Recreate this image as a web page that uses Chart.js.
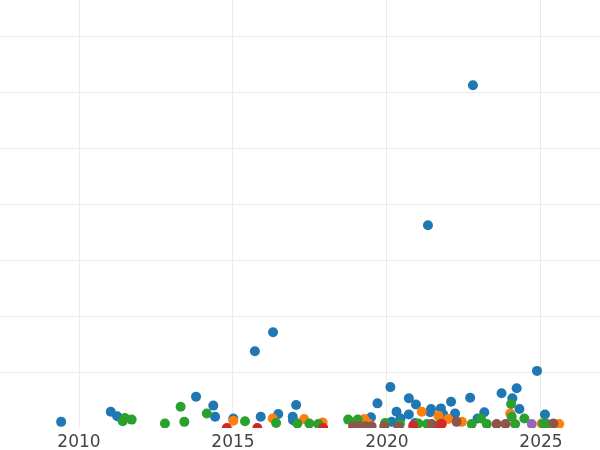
<!DOCTYPE html>
<html>
<head>
<meta charset="utf-8">
<script src="https://cdn.jsdelivr.net/npm/chart.js@4.4.1/dist/chart.umd.min.js"></script>
<style>
  html, body { margin: 0; padding: 0; background: #fff; }
  #wrap { width: 600px; height: 450px; position: relative; }
</style>
</head>
<body>
<div id="wrap"><canvas id="scatter"></canvas></div>
<script>
// point groups, x = year, y = value (y axis has no labels)
var blueX = [2009.42, 2011.03, 2011.24, 2013.80, 2014.36, 2014.42, 2015.01, 2015.90, 2015.71, 2016.30,
  2016.47, 2017.05, 2016.94, 2016.95, 2019.48, 2019.69, 2020.11, 2020.15, 2020.31, 2020.44,
  2020.71, 2020.94, 2020.71, 2020.91, 2021.33, 2021.43, 2021.40, 2021.75, 2021.83, 2022.08,
  2022.21, 2022.70, 2022.79, 2023.16, 2022.94, 2023.72, 2024.21, 2024.07, 2024.30, 2024.87, 2025.13];
var blueY = [11, 29, 21, 56, 40, 20, 17, 20, 137, 171,
  25, 41, 20, 14, 19, 44, 73, 11, 29, 17,
  53, 42, 24, 9, 362, 34, 28, 35, 24, 47,
  26, 54, 612, 28, 17, 62, 71, 53, 34, 102, 24];

var orangeX = [2015.01, 2016.29, 2017.31, 2017.91, 2019.26, 2019.40, 2021.13, 2021.67, 2021.99, 2022.43, 2024.00, 2025.02, 2025.59];
var orangeY = [13, 17, 16, 10, 16, 8, 29, 22, 16, 11, 26, 8, 7];

var greenX = [2011.42, 2011.49, 2011.71, 2012.79, 2013.30, 2013.42, 2014.15, 2015.39, 2016.40, 2017.09,
  2017.48, 2017.77, 2018.74, 2019.05, 2019.94, 2020.42, 2021.02, 2021.30, 2021.72, 2022.75,
  2023.05, 2023.24, 2024.03, 2024.05, 2024.16, 2024.46, 2025.07, 2025.20];
var greenY = [12, 18, 15, 8, 38, 11, 26, 12, 9, 8,
  8, 7, 15, 15, 9, 7, 8, 7, 7, 7,
  17, 7, 43, 20, 7, 17, 8, 7];

var redX = [2014.80, 2015.79, 2017.93, 2020.85, 2021.66, 2021.78];
var redY = [0, 0, 0, 4, 3, 7];

var purpleX = [2024.70];
var purpleY = [7];

var brownX = [2018.90, 2019.10, 2019.30, 2019.50, 2019.91, 2020.37, 2021.45, 2022.26, 2023.56, 2023.85, 2025.40];
var brownY = [3, 3, 3, 3, 3, 2, 7, 11, 7, 7, 8];

var yearTicks = [2010, 2015, 2020, 2025];

function pts(xs, ys) {
  return xs.map(function(x, i) { return { x: x, y: ys[i] }; });
}

function group(xs, ys, color, order) {
  return {
    data: pts(xs, ys),
    backgroundColor: color,
    borderWidth: 0,
    pointRadius: 5,
    pointHoverRadius: 5,
    clip: 0,
    order: order
  };
}

var ctx = document.getElementById('scatter').getContext('2d');
new Chart(ctx, {
  type: 'scatter',
  data: {
    datasets: [
      group(blueX, blueY, '#1f77b4', 6),
      group(orangeX, orangeY, '#ff7f0e', 5),
      group(greenX, greenY, '#2ca02c', 4),
      group(redX, redY, '#d62728', 3),
      group(purpleX, purpleY, '#9467bd', 2),
      group(brownX, brownY, '#8c564b', 1)
    ]
  },
  options: {
    responsive: true,
    maintainAspectRatio: false,
    animation: false,
    layout: { padding: 0, autoPadding: false },
    plugins: { legend: { display: false }, tooltip: { enabled: false } },
    scales: {
      x: {
        type: 'linear',
        min: 2007.435,
        max: 2026.916,
        border: { display: false },
        grid: { color: '#ebebeb', lineWidth: 1, drawTicks: false },
        afterBuildTicks: function(s) {
          s.ticks = yearTicks.map(function(v) { return { value: v }; });
        },
        afterFit: function(s) { s.height = 22; },
        ticks: {
          padding: 4,
          color: '#444',
          font: { family: 'DejaVu Sans', size: 17 },
          callback: function(v) { return String(v); }
        }
      },
      y: {
        min: 0,
        max: 764.3,
        border: { display: false },
        grid: { color: '#ebebeb', lineWidth: 1, drawTicks: false },
        afterBuildTicks: function(s) {
          var t = [];
          for (var v = 100; v <= 700; v += 100) t.push({ value: v });
          s.ticks = t;
        },
        afterFit: function(s) { s.width = 0; },
        ticks: { display: false }
      }
    }
  }
});
</script>
</body>
</html>
